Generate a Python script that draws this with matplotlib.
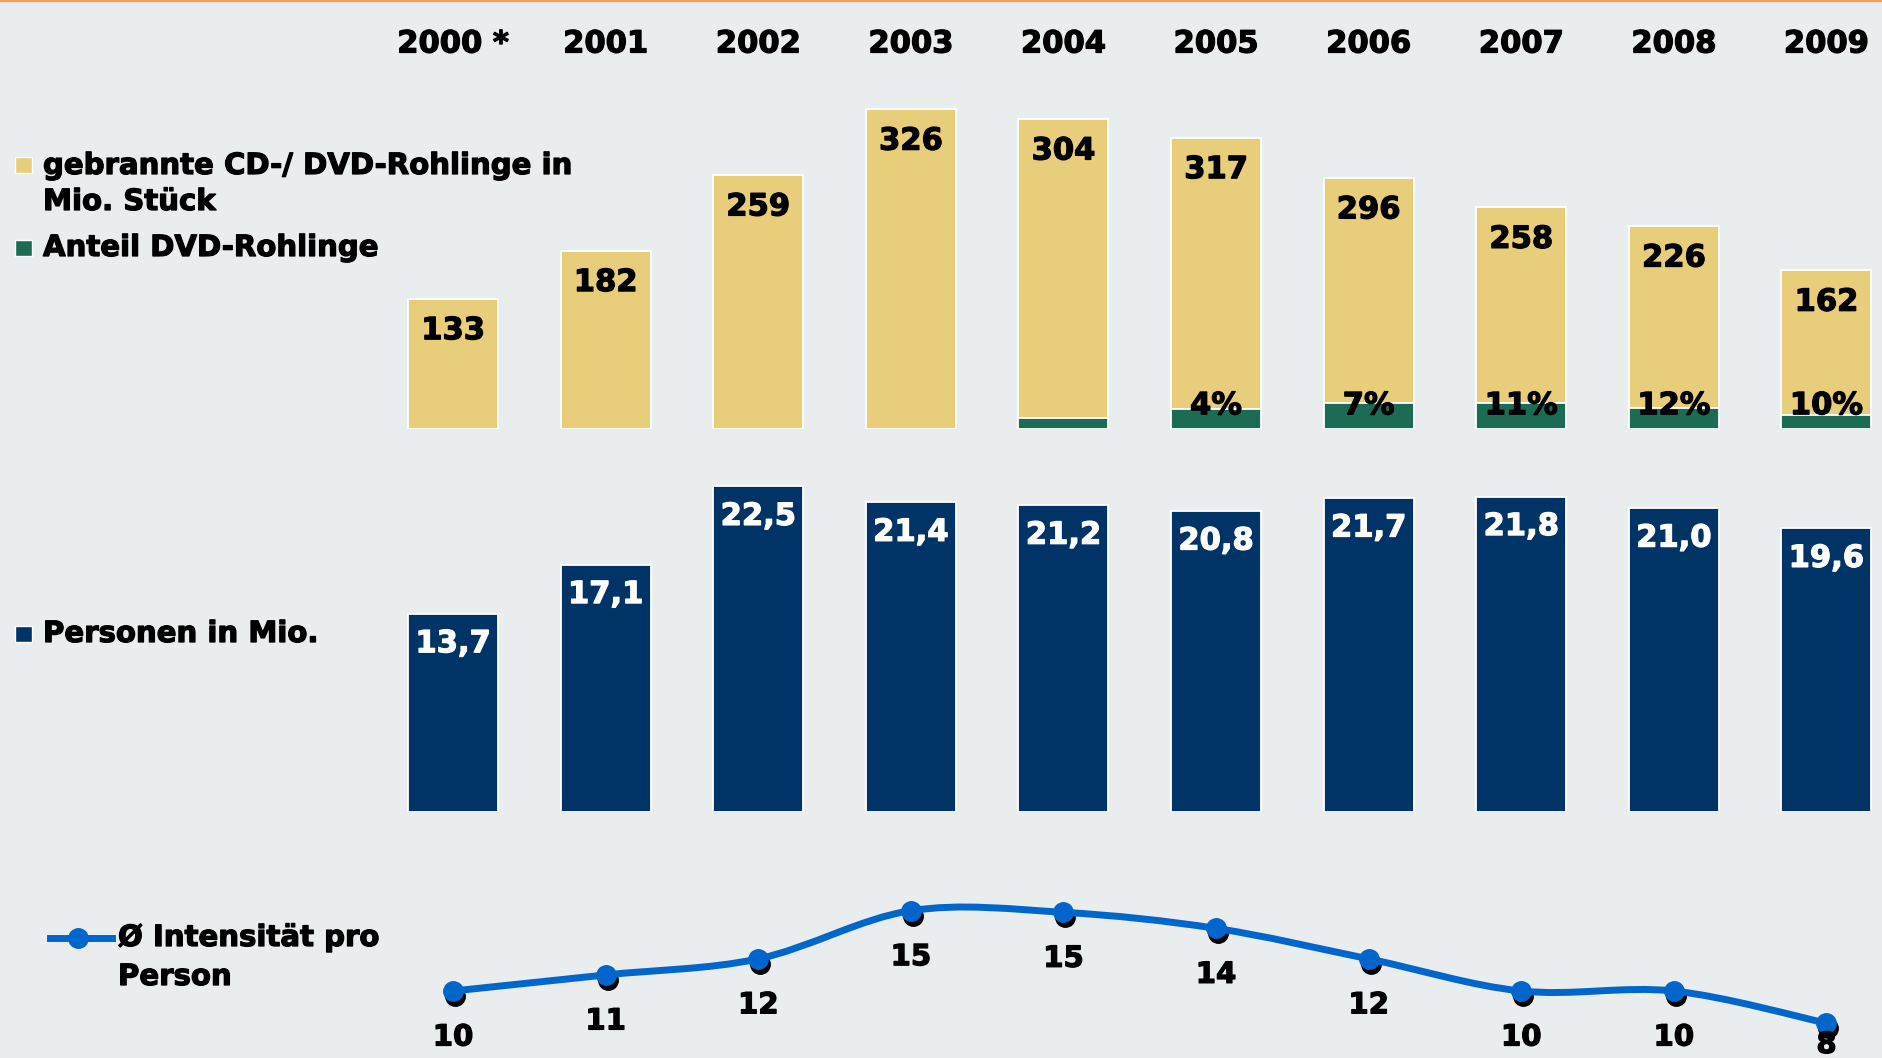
import numpy as np
import matplotlib
matplotlib.use("Agg")
import matplotlib.pyplot as plt
import matplotlib.transforms as mtransforms
import matplotlib.patheffects as pe
from matplotlib.path import Path
from matplotlib.patches import PathPatch, Rectangle
from matplotlib.lines import Line2D
from matplotlib.transforms import blended_transform_factory

# ---------------- data ----------------
years = ["2000 *", "2001", "2002", "2003", "2004", "2005", "2006", "2007", "2008", "2009"]
cd_heights = [133, 182, 259, 326, 316, 297, 256, 226, 207, 162]          # drawn bar heights (Mio. Stück)
cd_labels = ["133", "182", "259", "326", "304", "317", "296", "258", "226", "162"]
dvd_share = [0.0, 0.0, 0.0, 0.0, 3.7, 6.9, 10.3, 11.7, 10.6, 8.8]        # % of drawn bar height
dvd_labels = ["", "", "", "", "", "4%", "7%", "11%", "12%", "10%"]
persons = [13.7, 17.1, 22.5, 21.4, 21.2, 20.8, 21.7, 21.8, 21.0, 19.6]
person_labels = ["13,7", "17,1", "22,5", "21,4", "21,2", "20,8", "21,7", "21,8", "21,0", "19,6"]
intensity = [10, 11, 12, 15, 14.9, 13.9, 12, 10, 10, 8]
intensity_labels = ["10", "11", "12", "15", "15", "14", "12", "10", "10", "8"]

legend_cd = ["gebrannte CD-/ DVD-Rohlinge in", "Mio. Stück"]
legend_dvd = "Anteil DVD-Rohlinge"
legend_persons = "Personen in Mio."
legend_line = ["Ø Intensität pro", "Person"]

# ---------------- style ----------------
W, H, DPI = 1883, 1058, 100
BG = "#E9EDEE"
YELLOW = "#E8CE7A"
GREEN = "#1B6B55"
NAVY = "#003366"
BLUE = "#0066CC"
ORANGE = "#F5A05E"


def font(color="black"):
    return dict(family="DejaVu Sans", weight="bold", color=color,
                path_effects=[pe.withStroke(linewidth=0.9, foreground=color)])


fig = plt.figure(figsize=(W / DPI, H / DPI), dpi=DPI, facecolor=BG)

x0_px, step_px = 453.0, 152.6
xlim = (-x0_px / step_px, (W - x0_px) / step_px)
x = np.arange(len(years))
bw = 0.59


def axes_px(top_px, bottom_px):
    return fig.add_axes([0, 1 - bottom_px / H, 1, (bottom_px - top_px) / H])


# ---- top: CD/DVD bars ----
ax1 = axes_px(60, 429.3)
ax1.set_xlim(*xlim)
ax1.set_ylim(0, (429.3 - 60) / 0.982)
ax1.axis("off")
cd = np.array(cd_heights, float)
dvd = cd * np.array(dvd_share) / 100.0
ax1.bar(x, cd - dvd, bottom=dvd, width=bw, color=YELLOW, edgecolor="white", linewidth=1.3)
mask = dvd > 0
ax1.bar(x[mask], dvd[mask], width=bw, color=GREEN, edgecolor="white", linewidth=1.3)
for i in range(len(x)):
    ax1.annotate(cd_labels[i], (x[i], cd[i]), xytext=(0, -32 * 72 / DPI), textcoords="offset points",
                 ha="center", va="center", fontsize=22, **font())
    if dvd_labels[i]:
        ax1.text(x[i], 24.0, dvd_labels[i], ha="center", va="center", fontsize=22, **font())

# year labels
tr = blended_transform_factory(ax1.transData, fig.transFigure)
for i, y in enumerate(years):
    ax1.text(x[i], 1 - 44 / H, y, transform=tr, ha="center", va="center", fontsize=22, **font())

# ---- middle: persons ----
ax2 = axes_px(440, 812)
ax2.set_xlim(*xlim)
ax2.set_ylim(0, (812 - 440) / 14.47)
ax2.axis("off")
ax2.bar(x, persons, width=bw, color=NAVY, edgecolor="white", linewidth=1.3)
for i in range(len(x)):
    ax2.annotate(person_labels[i], (x[i], persons[i]), xytext=(0, -30 * 72 / DPI), textcoords="offset points",
                 ha="center", va="center", fontsize=22, **font("white"))

# ---- bottom: intensity line ----
ax3 = axes_px(820, 1058)
ax3.set_xlim(*xlim)
unit = 16.06
ax3.set_ylim(10 - (1058 - 991) / unit, 10 + (991 - 820) / unit)
ax3.axis("off")

pts = np.column_stack([x, intensity]).astype(float)
verts = [tuple(pts[0])]
codes = [Path.MOVETO]
n = len(pts)
for i in range(n - 1):
    p0 = pts[i - 1] if i > 0 else pts[i]
    p1, p2 = pts[i], pts[i + 1]
    p3 = pts[i + 2] if i + 2 < n else pts[i + 1]
    c1 = p1 + (p2 - p0) / 6.0
    c2 = p2 - (p3 - p1) / 6.0
    verts += [tuple(c1), tuple(c2), tuple(p2)]
    codes += [Path.CURVE4] * 3
ax3.add_patch(PathPatch(Path(verts, codes), facecolor="none", edgecolor=BLUE, lw=5.0, zorder=3,
                        capstyle="round", joinstyle="round"))

shadow = mtransforms.offset_copy(ax3.transData, fig=fig, x=1.5, y=-3.5, units="points")
ax3.plot(x, intensity, "o", ms=14, color="black", transform=shadow, zorder=2, clip_on=False)
ax3.plot(x, intensity, "o", ms=14, color=BLUE, zorder=4, clip_on=False)

for i in range(n):
    xd, yd = ax3.transData.transform((x[i], intensity[i]))
    ly = max(yd - 46.5, 13)
    fig.text(xd / W, ly / H, intensity_labels[i], ha="center", va="center", fontsize=21, **font())

# ---------------- legends ----------------
def square(cy_px, color):
    fig.patches.append(Rectangle((15 / W, 1 - (cy_px + 8) / H), 17 / W, 16 / H, transform=fig.transFigure,
                                 facecolor=color, edgecolor="white", linewidth=1.0))


LFS = 21
square(165, YELLOW)
fig.text(43 / W, 1 - 166 / H, legend_cd[0], ha="left", va="center", fontsize=LFS, **font())
fig.text(43 / W, 1 - 202 / H, legend_cd[1], ha="left", va="center", fontsize=LFS, **font())
square(248, GREEN)
fig.text(43 / W, 1 - 248 / H, legend_dvd, ha="left", va="center", fontsize=LFS, **font())
square(634, NAVY)
fig.text(43 / W, 1 - 634 / H, legend_persons, ha="left", va="center", fontsize=LFS, **font())

fig.lines.append(Line2D([50 / W, 112 / W], [1 - 938 / H] * 2, transform=fig.transFigure, color=BLUE, lw=5.0))
fig.lines.append(Line2D([78 / W], [1 - 938 / H], transform=fig.transFigure, marker="o", ms=14, color=BLUE))
fig.text(118 / W, 1 - 938 / H, legend_line[0], ha="left", va="center", fontsize=LFS, **font())
fig.text(118 / W, 1 - 977 / H, legend_line[1], ha="left", va="center", fontsize=LFS, **font())

# top orange rule
fig.lines.append(Line2D([0, 1], [1 - 1 / H] * 2, transform=fig.transFigure, color=ORANGE, lw=1.6))

fig.savefig("out.png", dpi=DPI, facecolor=BG)
